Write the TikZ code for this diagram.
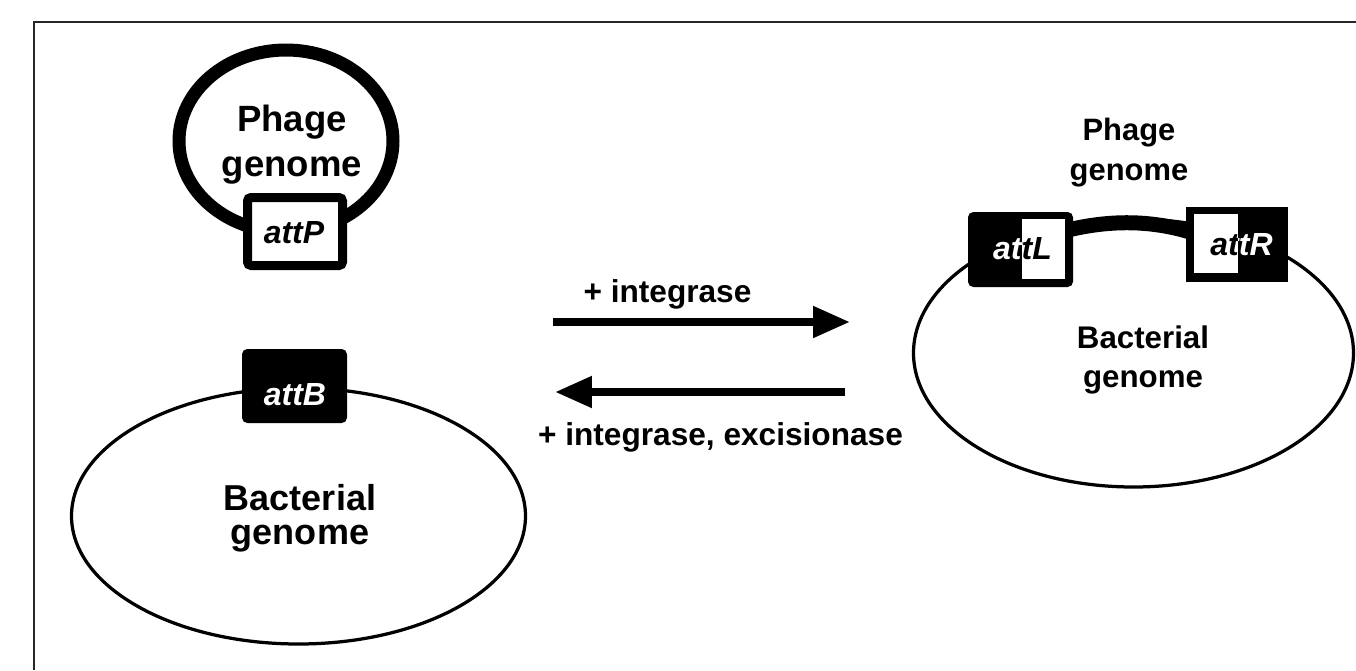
\documentclass[tikz,border=0pt]{standalone}
\usepackage{fontspec}
\setmainfont{Liberation Sans}
\usepackage{tikz}
\usetikzlibrary{arrows.meta}

\begin{document}
\begin{tikzpicture}[x=0.02cm, y=-0.02cm]
\tikzset{
    genome label/.style={
        align=center, inner sep=0pt
    },
    att label/.style={
        anchor=base, inner sep=0pt,
        font=\bfseries\itshape\fontsize{18.2pt}{20pt}\selectfont
    },
    enzyme label/.style={
        anchor=base, inner sep=0pt,
        font=\bfseries\fontsize{18pt}{20pt}\selectfont
    },
    arrow/.style={
        line width=0.16cm, -{Triangle[length=0.74cm, width=0.6cm]}
    },
    thin genome/.style={line width=0.065cm},
    thick genome/.style={line width=0.26cm}
}
\useasboundingbox (0,0) rectangle (1356,670);

% Chenar
\draw[line width=0.035cm, black!85] (34,670) -- (34,22) -- (1356,22);

% Genomul fagului (stanga)
\draw[thick genome] (286,141) ellipse [x radius=107, y radius=91];
\filldraw[fill=white, line width=0.18cm, rounded corners=2pt] (247.5,197.5) rectangle (342.5,265.5);
\node[att label] (attP) at (294,243) {attP};
\node[genome label, font=\bfseries\fontsize{20.8pt}{25.6pt}\selectfont] (phageL) at (292,145) {Phage\\genome};

% Genomul bacterian (stanga)
\draw[thin genome] (298.5,516) ellipse [x radius=227, y radius=128];
\fill[rounded corners=3pt] (242,349) rectangle (347,423);
\node[att label, text=white] (attB) at (295,405) {attB};
\node[genome label, font=\bfseries\fontsize{20.5pt}{19.4pt}\selectfont] (bactL) at (300,518) {Bacterial\\genome};

% Sageti
\coordinate (fwdStart) at (553,322);
\coordinate (fwdEnd)   at (850,322);
\coordinate (revStart) at (845,392);
\coordinate (revEnd)   at (555,392);
\draw[arrow] (fwdStart) -- (fwdEnd);
\draw[arrow] (revStart) -- (revEnd);
\node[enzyme label] (intFwd) at (667.5,302) {+ integrase};
\node[enzyme label] (intRev) at (720.5,445) {+ integrase, excisionase};

% Profagul integrat (dreapta)
\draw[thin genome] (1133.5,353) ellipse [x radius=220, y radius=134];
\draw[line width=0.3cm] (1068,230) .. controls (1110,220) and (1150,220) .. (1190,232);
\fill[rounded corners=3pt] (968,212) rectangle (1073,287);
\fill[white] (1022,219) rectangle (1065,279);
\fill (1186,207) rectangle (1288,282);
\fill[white] (1194,214) rectangle (1238,273);

% attL: alb pe negru, negru pe alb
\node[att label, text=white] (attL) at (1022.5,259) {attL};
\begin{scope}
    \clip (1022,219) rectangle (1065,279);
    \node[att label] (attLin) at (1022.5,259) {attL};
\end{scope}
% attR: negru pe alb, alb pe negru
\node[att label] (attR) at (1241.5,255) {attR};
\begin{scope}
    \clip (1238,207) rectangle (1288,282);
    \node[att label, text=white] (attRin) at (1241.5,255) {attR};
\end{scope}

\node[genome label, font=\bfseries\fontsize{17.6pt}{22.8pt}\selectfont] (phageR) at (1129,152.7) {Phage\\genome};
\node[genome label, font=\bfseries\fontsize{17.8pt}{22.2pt}\selectfont] (bactR) at (1143,359.6) {Bacterial\\genome};
\end{tikzpicture}
\end{document}
